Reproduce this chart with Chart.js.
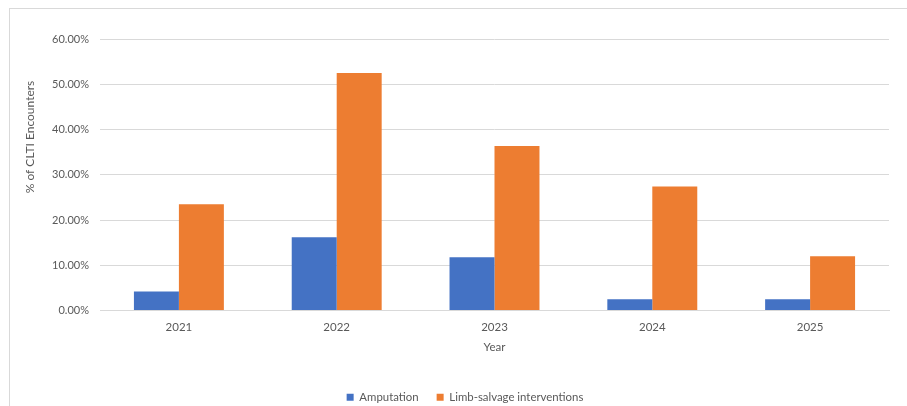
<!DOCTYPE html>
<html lang="en">
    <head>
        <meta charset="utf-8" />
        <title>CLTI Encounters by Year</title>
        <style>
            html,
            body {
                margin: 0;
                padding: 0;
                background: #ffffff;
                overflow: hidden;
            }
            .frame {
                position: absolute;
                left: 9px;
                top: 8px;
                width: 940px;
                height: 440px;
                border: 1px solid #d9d9d9;
            }
            .wrap {
                position: absolute;
                left: 0;
                top: 0;
                width: 907px;
                height: 406px;
                overflow: hidden;
            }
        </style>
    </head>
    <body>
        <div class="frame"></div>
        <div class="wrap">
            <canvas id="cltiChart" width="907" height="413"></canvas>
        </div>

        <script src="https://cdn.jsdelivr.net/npm/chart.js"></script>
        <script>
            const years = ["2021", "2022", "2023", "2024", "2025"];
            const amputation = [4.2, 16.2, 11.8, 2.5, 2.5];
            const limbSalvage = [23.5, 52.5, 36.35, 27.4, 12.0];
            const yTicks = [0, 10, 20, 30, 40, 50, 60];

            const FONT = "Lato, 'Open Sans', sans-serif";
            const GREY = "#595959";

            // rotated y-axis caption, sitting a bit above the plot centre
            const yCaption = {
                id: "yCaption",
                afterDraw(chart) {
                    const ctx = chart.ctx;
                    ctx.save();
                    ctx.translate(30, 137);
                    ctx.rotate(-Math.PI / 2);
                    ctx.font = "12px " + FONT;
                    ctx.fillStyle = GREY;
                    ctx.textAlign = "center";
                    ctx.textBaseline = "middle";
                    ctx.fillText("% of CLTI Encounters", 0, 0);
                    ctx.restore();
                },
            };

            new Chart(document.getElementById("cltiChart"), {
                type: "bar",
                data: {
                    labels: years,
                    datasets: [
                        {
                            label: "Amputation",
                            data: amputation,
                            backgroundColor: "#4472C4",
                        },
                        {
                            label: "Limb-salvage interventions",
                            data: limbSalvage,
                            backgroundColor: "#ED7D31",
                        },
                    ],
                },
                options: {
                    responsive: false,
                    animation: false,
                    layout: {
                        padding: { left: 41, top: 39, right: 18, bottom: 0 },
                    },
                    datasets: {
                        bar: {
                            barPercentage: 1,
                            categoryPercentage: 0.57,
                        },
                    },
                    plugins: {
                        tooltip: { enabled: false },
                        legend: {
                            position: "bottom",
                            labels: {
                                boxWidth: 7,
                                boxHeight: 7,
                                padding: 18,
                                color: GREY,
                                font: { family: FONT, size: 11.4 },
                            },
                        },
                    },
                    scales: {
                        x: {
                            grid: { display: false },
                            border: { color: "#d9d9d9" },
                            ticks: {
                                color: GREY,
                                padding: 2,
                                font: { family: FONT, size: 11.5 },
                            },
                            title: {
                                display: true,
                                text: "Year",
                                color: GREY,
                                padding: { top: 0, bottom: 19 },
                                font: { family: FONT, size: 11.5 },
                            },
                            afterFit(scale) {
                                scale.height = 63;
                            },
                        },
                        y: {
                            min: 0,
                            max: 60,
                            afterBuildTicks(scale) {
                                scale.ticks = yTicks.map((v) => ({ value: v }));
                            },
                            grid: { color: "#d9d9d9", drawTicks: false },
                            border: { display: false },
                            ticks: {
                                color: GREY,
                                padding: 11,
                                font: { family: FONT, size: 11 },
                                callback: (v) => v.toFixed(2) + "%",
                            },
                            afterFit(scale) {
                                scale.width = 59;
                            },
                        },
                    },
                },
                plugins: [yCaption],
            });
        </script>
    </body>
</html>
